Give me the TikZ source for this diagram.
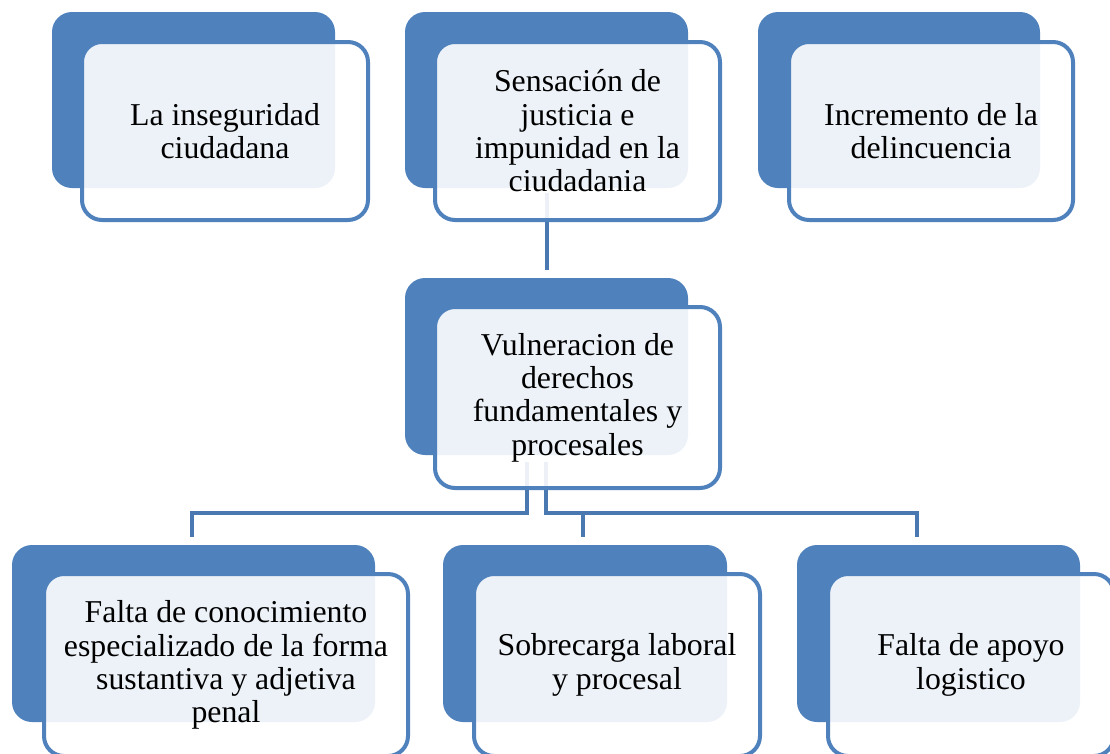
\documentclass[tikz,border=0pt]{standalone}
\usepackage{fontspec}
\setmainfont{Liberation Serif}
\definecolor{accent}{HTML}{4F81BD}
\definecolor{connblue}{HTML}{4A78B0}
\tikzset{
  backbox/.style={rounded corners=20pt, fill=accent, draw=none, inner sep=0pt},
  frontbox/.style={rounded corners=20pt, fill=white, fill opacity=0.9, text opacity=1,
    draw=accent, draw opacity=1, line width=4pt, inner sep=0pt, align=center,
    font=\fontsize{31.8}{33.3}\selectfont},
  conn/.style={draw=connblue, line width=4pt},
}
\begin{document}
\begin{tikzpicture}[x=1pt,y=-1pt]
\useasboundingbox (0,0) rectangle (1110,753);
\begin{scope}
\clip (0,0) rectangle (1110,753);
% back boxes
\node[backbox, minimum width=283pt, minimum height=176pt] (tlb) at (193.5,100) {};
\node[backbox, minimum width=283pt, minimum height=176pt] (tmb) at (546.5,100) {};
\node[backbox, minimum width=282pt, minimum height=176pt] (trb) at (899,100) {};
\node[backbox, minimum width=283pt, minimum height=177pt] (mb) at (546.5,366.5) {};
\node[backbox, minimum width=363pt, minimum height=177pt] (blb) at (193.5,633.5) {};
\node[backbox, minimum width=284pt, minimum height=177pt] (bmb) at (585,633.5) {};
\node[backbox, minimum width=283pt, minimum height=177pt] (brb) at (938.5,633.5) {};
% connectors
\coordinate (jl) at (527,513);
\coordinate (jr) at (546,513);
\draw[conn] ([yshift=-5pt]tmb.south) -- ([yshift=8pt]mb.north);
\draw[conn] ([xshift=-19.5pt,yshift=-7pt]mb.south) -- (jl) -| ([xshift=-1.5pt,yshift=8pt]blb.north);
\draw[conn] ([xshift=-0.5pt,yshift=-7pt]mb.south) -- (jr) -| ([xshift=-21.5pt,yshift=8pt]brb.north);
\draw[conn] (jr) -| ([xshift=-2pt,yshift=8pt]bmb.north);
% front boxes
\node[frontbox, minimum width=286pt, minimum height=178pt] (tlf) at (225,131) {La inseguridad\\ciudadana};
\node[frontbox, minimum width=285pt, minimum height=178pt] (tmf) at (577.5,131) {Sensación de\\justicia e\\impunidad en la\\ciudadania};
\node[frontbox, minimum width=284pt, minimum height=178pt] (trf) at (931,131) {Incremento de la\\delincuencia};
\node[frontbox, minimum width=285pt, minimum height=181pt] (mf) at (577.5,397.5) {Vulneracion de\\derechos\\fundamentales y\\procesales};
\node[frontbox, minimum width=364pt, minimum height=182pt] (blf) at (226,665) {Falta de conocimiento\\especializado de la forma\\sustantiva y adjetiva\\penal};
\node[frontbox, minimum width=286pt, minimum height=182pt] (bmf) at (617,665) {Sobrecarga laboral\\y procesal};
\node[frontbox, minimum width=286pt, minimum height=182pt] (brf) at (971,665) {Falta de apoyo\\logistico};
\end{scope}
\end{tikzpicture}
\end{document}
